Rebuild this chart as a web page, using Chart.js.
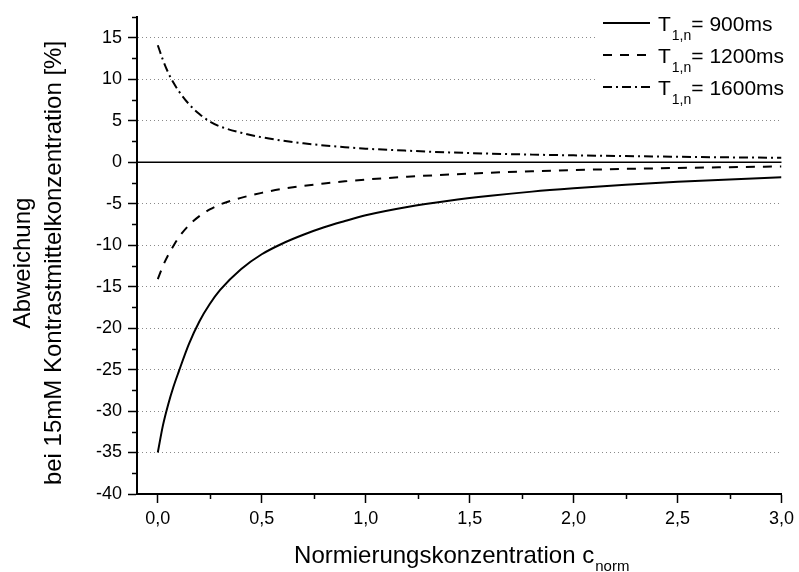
<!DOCTYPE html>
<html><head><meta charset="utf-8">
<script src="https://cdn.jsdelivr.net/npm/chart.js"></script>
<style>html,body{margin:0;padding:0;background:#fff}#wrap{width:799px;height:572px;position:relative}</style>
</head><body><div id="wrap"><canvas id="c" width="799" height="572"></canvas></div>
<script>
// ---- data ----
const cNorm   = [0, 0.025, 0.05, 0.075, 0.1, 0.15, 0.2, 0.25, 0.3, 0.4, 0.5, 0.6, 0.7, 0.8, 0.9, 1.0, 1.2, 1.4, 1.6, 1.8, 2.0, 2.25, 2.5, 2.75, 3.0];
const dev900  = [-35, -31.7, -29.2, -27.1, -25.3, -21.9, -19.2, -17.1, -15.4, -12.9, -11.1, -9.8, -8.75, -7.85, -7.1, -6.4, -5.4, -4.65, -4.05, -3.55, -3.15, -2.72, -2.37, -2.08, -1.82];
const dev1200 = [-14.1, -12.5, -11.2, -10.1, -9.1, -7.6, -6.5, -5.7, -5.1, -4.3, -3.7, -3.22, -2.86, -2.56, -2.31, -2.1, -1.76, -1.49, -1.27, -1.09, -0.95, -0.81, -0.7, -0.6, -0.52];
const dev1600 = [14.1, 12.3, 10.8, 9.6, 8.6, 7.0, 5.8, 4.9, 4.3, 3.55, 3.0, 2.6, 2.28, 2.02, 1.81, 1.63, 1.38, 1.18, 1.03, 0.91, 0.82, 0.73, 0.65, 0.58, 0.53];
const seriesNames = ['= 900ms', '= 1200ms', '= 1600ms'];
const seriesDash  = [[], [9, 8], [9, 4, 2, 4]];
const xMin = -0.1, xMax = 3.0, xStep = 0.5;
const yMin = -40, yMax = 17.5, yStep = 5;
const xTitle = 'Normierungskonzentration c', xTitleSub = 'norm';
const yTitle = ['Abweichung', 'bei 15mM Kontrastmittelkonzentration [%]'];

const FONT = "'Liberation Sans', Arial, Helvetica, sans-serif";
const series = [dev900, dev1200, dev1600];

const decor = {
  id: 'decor',
  beforeDatasetsDraw(chart) {
    const {ctx, chartArea: a, scales: {y}} = chart;
    const y0 = y.getPixelForValue(0);
    ctx.save();
    ctx.strokeStyle = '#000'; ctx.lineWidth = 1.5;
    ctx.beginPath(); ctx.moveTo(a.left, y0); ctx.lineTo(a.right, y0); ctx.stroke();
    ctx.restore();
  },
  afterDraw(chart) {
    const {ctx, chartArea: a, scales: {x, y}} = chart;
    ctx.save();
    // minor ticks
    ctx.strokeStyle = '#000'; ctx.lineWidth = 1.5;
    ctx.beginPath();
    for (let v = yMin + yStep / 2; v <= yMax + 1e-9; v += yStep) {
      const p = Math.round(y.getPixelForValue(v)) + 0.5;
      ctx.moveTo(a.left, p); ctx.lineTo(a.left - 5, p);
    }
    for (let v = xStep / 2; v < xMax; v += xStep) {
      const p = Math.round(x.getPixelForValue(v)) + 0.5;
      ctx.moveTo(p, a.bottom); ctx.lineTo(p, a.bottom + 5);
    }
    ctx.stroke();

    ctx.fillStyle = '#000';
    // x title with subscript
    ctx.font = '24px ' + FONT;
    const wMain = ctx.measureText(xTitle).width;
    ctx.font = '15px ' + FONT;
    const wSub = ctx.measureText(xTitleSub).width;
    const cx = (a.left + a.right) / 2 + 2;
    const x0 = cx - (wMain + wSub) / 2;
    ctx.textAlign = 'left'; ctx.textBaseline = 'alphabetic';
    ctx.font = '24px ' + FONT;
    ctx.fillText(xTitle, x0, 563);
    ctx.font = '15px ' + FONT;
    ctx.fillText(xTitleSub, x0 + wMain + 1, 571);

    // y title (two lines, rotated)
    ctx.font = '24px ' + FONT;
    ctx.textAlign = 'center';
    const baseX = [30, 61];
    yTitle.forEach((t, i) => {
      ctx.save();
      ctx.translate(baseX[i], 263);
      ctx.rotate(-Math.PI / 2);
      ctx.fillText(t, 0, 0);
      ctx.restore();
    });

    // legend
    ctx.fillStyle = '#fff';
    ctx.fillRect(596, 0, 203, 104);
    const rows = [23, 55, 87];
    seriesNames.forEach((name, i) => {
      const ry = rows[i];
      ctx.strokeStyle = '#000'; ctx.lineWidth = 2;
      ctx.setLineDash(seriesDash[i]);
      ctx.beginPath(); ctx.moveTo(603, ry); ctx.lineTo(650, ry); ctx.stroke();
      ctx.setLineDash([]);
      ctx.fillStyle = '#000';
      ctx.textAlign = 'left';
      ctx.font = '21px ' + FONT;
      ctx.fillText('T', 658, ry + 8);
      const wT = ctx.measureText('T').width;
      ctx.font = '14px ' + FONT;
      ctx.fillText('1,n', 658 + wT + 1, ry + 17);
      const wS = ctx.measureText('1,n').width;
      ctx.font = '21px ' + FONT;
      ctx.fillText(name, 658 + wT + 1 + wS, ry + 8);
    });
    ctx.restore();
  }
};

new Chart(document.getElementById('c'), {
  type: 'line',
  data: {
    datasets: series.map((s, i) => ({
      label: 'T1,n ' + seriesNames[i],
      data: cNorm.map((c, j) => ({x: c, y: s[j]})),
      borderColor: '#000', borderWidth: 2, borderDash: seriesDash[i],
      pointRadius: 0, fill: false, cubicInterpolationMode: 'monotone'
    }))
  },
  options: {
    responsive: false, animation: false,
    layout: {padding: {top: 17, right: 16, left: 0, bottom: 0}},
    plugins: {legend: {display: false}, tooltip: {enabled: false}},
    scales: {
      x: {
        type: 'linear', min: xMin, max: xMax,
        afterFit(s) { s.height = 78; },
        ticks: {stepSize: xStep, includeBounds: false, autoSkip: false, maxRotation: 0,
                font: {family: FONT, size: 18}, color: '#000', padding: 5,
                callback: v => v.toFixed(1).replace('.', ',')},
        grid: {drawOnChartArea: false, drawTicks: true, tickLength: 9, tickColor: '#000', tickWidth: 1.5},
        border: {display: true, color: '#000', width: 2}
      },
      y: {
        type: 'linear', min: yMin, max: yMax,
        afterFit(s) { s.width = 137; },
        ticks: {stepSize: yStep, includeBounds: false, font: {family: FONT, size: 18}, color: '#000', padding: 6,
                callback: v => String(v)},
        grid: {color: c => (c.tick && (c.tick.value === 0 || c.tick.value === yMin)) ? 'rgba(0,0,0,0)' : '#8a8a8a',
               lineWidth: 1, tickLength: 9, tickColor: '#000', tickWidth: 1.5},
        border: {display: true, color: '#000', width: 2, dash: [1, 3]}
      }
    }
  },
  plugins: [decor]
});
</script></body></html>
